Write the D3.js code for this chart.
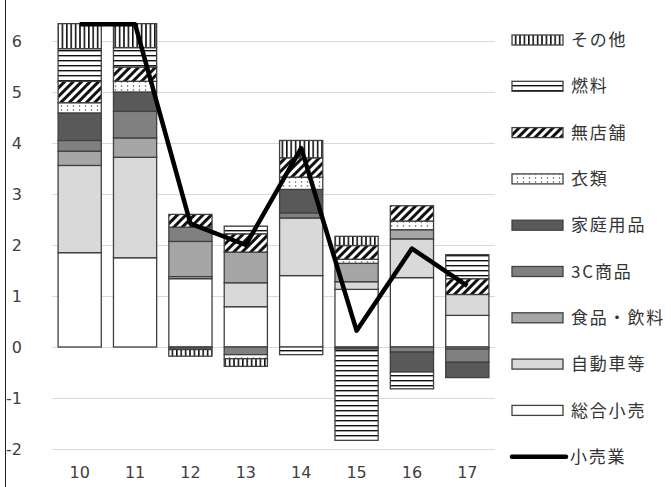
<!DOCTYPE html>
<html>
<head>
<meta charset="utf-8">
<script src="https://cdn.jsdelivr.net/npm/d3@7"></script>
<style>
  body { margin: 0; background: #fff; }
  svg { display: block; }
</style>
</head>
<body>
<div id="chart"></div>
<script>
const years = ['10', '11', '12', '13', '14', '15', '16', '17'];
const seriesNames = ['総合小売', '自動車等', '食品・飲料', '3C商品', '家庭用品', '衣類', '無店舗', '燃料', 'その他'];

const sogo     = [1.85, 1.75, 1.34, 0.79, 1.40, 1.13, 1.36, 0.62];
const jidosha  = [1.71, 1.97, 0.04, 0.47, 1.13, 0.15, 0.76, 0.41];
const shokuhin = [0.28, 0.38, 0.69, 0.60, 0.00, 0.36, 0.18, -0.04];
const sanC     = [0.21, 0.52, 0.28, -0.15, 0.10, 0.00, -0.10, -0.26];
const katei    = [0.54, 0.38, -0.05, 0.00, 0.46, -0.04, -0.39, -0.30];
const irui     = [0.20, 0.21, 0.00, -0.08, 0.24, 0.08, 0.17, 0.00];
const mutenpo  = [0.42, 0.28, 0.25, 0.36, 0.38, 0.27, 0.30, 0.31];
const nenryo   = [0.64, 0.38, 0.00, 0.15, -0.15, -1.79, -0.33, 0.47];
const sonota   = [0.49, 0.47, -0.13, -0.15, 0.34, 0.18, 0.00, 0.00];
const kouri    = [6.33, 6.33, 2.42, 2.00, 3.90, 0.32, 1.93, 1.20];
const lineName = '小売業';

const yTicks = [-2, -1, 0, 1, 2, 3, 4, 5, 6];

const seriesValues = [sogo, jidosha, shokuhin, sanC, katei, irui, mutenpo, nenryo, sonota];
const fills = ['#ffffff', '#d9d9d9', '#a6a6a6', '#808080', '#595959',
  'url(#dots)', 'url(#diag)', 'url(#hstripe)', 'url(#vstripe)'];

const width = 671, height = 487;
const edge = '#404040';

const svg = d3.select('#chart').append('svg')
  .attr('width', width)
  .attr('height', height)
  .attr('viewBox', `0 0 ${width} ${height}`);

// patterns
const defs = svg.append('defs');
const vs = defs.append('pattern').attr('id', 'vstripe').attr('patternUnits', 'userSpaceOnUse')
  .attr('width', 4.4).attr('height', 4);
vs.append('rect').attr('width', 4.4).attr('height', 4).attr('fill', '#fff');
vs.append('rect').attr('x', 0).attr('width', 1.6).attr('height', 4).attr('fill', '#111');

const hs = defs.append('pattern').attr('id', 'hstripe').attr('patternUnits', 'userSpaceOnUse')
  .attr('width', 4).attr('height', 5);
hs.append('rect').attr('width', 4).attr('height', 5).attr('fill', '#fff');
hs.append('rect').attr('y', 0).attr('width', 4).attr('height', 1.4).attr('fill', '#111');

const dg = defs.append('pattern').attr('id', 'diag').attr('patternUnits', 'userSpaceOnUse')
  .attr('width', 6).attr('height', 6).attr('patternTransform', 'rotate(45)');
dg.append('rect').attr('width', 6).attr('height', 6).attr('fill', '#fff');
dg.append('rect').attr('width', 3).attr('height', 6).attr('fill', '#111');

const dt = defs.append('pattern').attr('id', 'dots').attr('patternUnits', 'userSpaceOnUse')
  .attr('width', 6).attr('height', 4);
dt.append('rect').attr('width', 6).attr('height', 4).attr('fill', '#fff');
dt.append('circle').attr('cx', 1.5).attr('cy', 2).attr('r', 0.8).attr('fill', '#555');

// left border of the image
svg.append('line')
  .attr('x1', 5.5).attr('x2', 5.5).attr('y1', 0).attr('y2', height)
  .attr('stroke', '#222').attr('stroke-width', 1);

const x = d3.scaleBand().domain(years).range([52, 495]).paddingInner(0.22).paddingOuter(0.11);
const y = d3.scaleLinear().domain([-2, 6]).range([449, 41]);

// grid
svg.append('g').selectAll('line').data(yTicks).join('line')
  .attr('x1', 52).attr('x2', 495)
  .attr('y1', d => Math.round(y(d)) + 0.5).attr('y2', d => Math.round(y(d)) + 0.5)
  .attr('stroke', '#d9d9d9').attr('stroke-width', 1.2);

// y labels
svg.append('g').selectAll('text').data(yTicks).join('text')
  .attr('x', 22).attr('y', d => y(d))
  .attr('dy', '0.36em')
  .attr('text-anchor', 'end')
  .attr('font-family', 'DejaVu Sans, sans-serif')
  .attr('font-size', 16)
  .attr('fill', '#404040')
  .text(d => d);

// x axis
const xAxis = svg.append('g')
  .attr('transform', 'translate(0,464)')
  .call(d3.axisBottom(x).tickSize(0));
xAxis.select('.domain').remove();
xAxis.selectAll('text')
  .attr('font-family', 'DejaVu Sans, sans-serif')
  .attr('font-size', 16)
  .attr('fill', '#404040');

// stacked bars (positive up, negative down)
const table = years.map((yr, i) => {
  const row = { year: yr };
  seriesNames.forEach((s, k) => { row[s] = seriesValues[k][i]; });
  return row;
});
const stacked = d3.stack().keys(seriesNames).offset(d3.stackOffsetDiverging)(table);

svg.append('g').selectAll('g').data(stacked).join('g')
  .attr('fill', (d, k) => fills[k])
  .selectAll('rect').data(d => d.filter(p => p[1] !== p[0])).join('rect')
  .attr('x', d => x(d.data.year))
  .attr('width', x.bandwidth())
  .attr('y', d => y(Math.max(d[0], d[1])))
  .attr('height', d => Math.abs(y(d[0]) - y(d[1])))
  .attr('stroke', edge)
  .attr('stroke-width', 1.3);

// total line
const line = d3.line()
  .x((d, i) => x(years[i]) + x.bandwidth() / 2)
  .y(d => y(d));
svg.append('path')
  .datum(kouri)
  .attr('d', line)
  .attr('fill', 'none')
  .attr('stroke', '#000')
  .attr('stroke-width', 4.5)
  .attr('stroke-linejoin', 'round');

// legend
const legendNames = seriesNames.slice().reverse();
const legendFills = fills.slice().reverse();
const lg = svg.append('g').attr('font-family', '"Noto Sans CJK JP", sans-serif');
legendNames.forEach((n, i) => {
  const cy = 40 + i * 46.3;
  lg.append('rect')
    .attr('x', 512).attr('y', cy - 5).attr('width', 51).attr('height', 10)
    .attr('fill', legendFills[i]).attr('stroke', edge).attr('stroke-width', 1.3);
  lg.append('text')
    .attr('x', 571).attr('y', cy).attr('dy', '0.36em')
    .attr('font-size', 17).attr('letter-spacing', 1.8)
    .attr('fill', '#333')
    .text(n);
});
const ly = 40 + 9 * 46.3;
lg.append('line')
  .attr('x1', 512).attr('x2', 566).attr('y1', ly).attr('y2', ly)
  .attr('stroke', '#000').attr('stroke-width', 4.5).attr('stroke-linecap', 'round');
lg.append('text')
  .attr('x', 570).attr('y', ly).attr('dy', '0.36em')
  .attr('font-size', 17).attr('letter-spacing', 1.8)
  .attr('fill', '#333')
  .text(lineName);
</script>
</body>
</html>
